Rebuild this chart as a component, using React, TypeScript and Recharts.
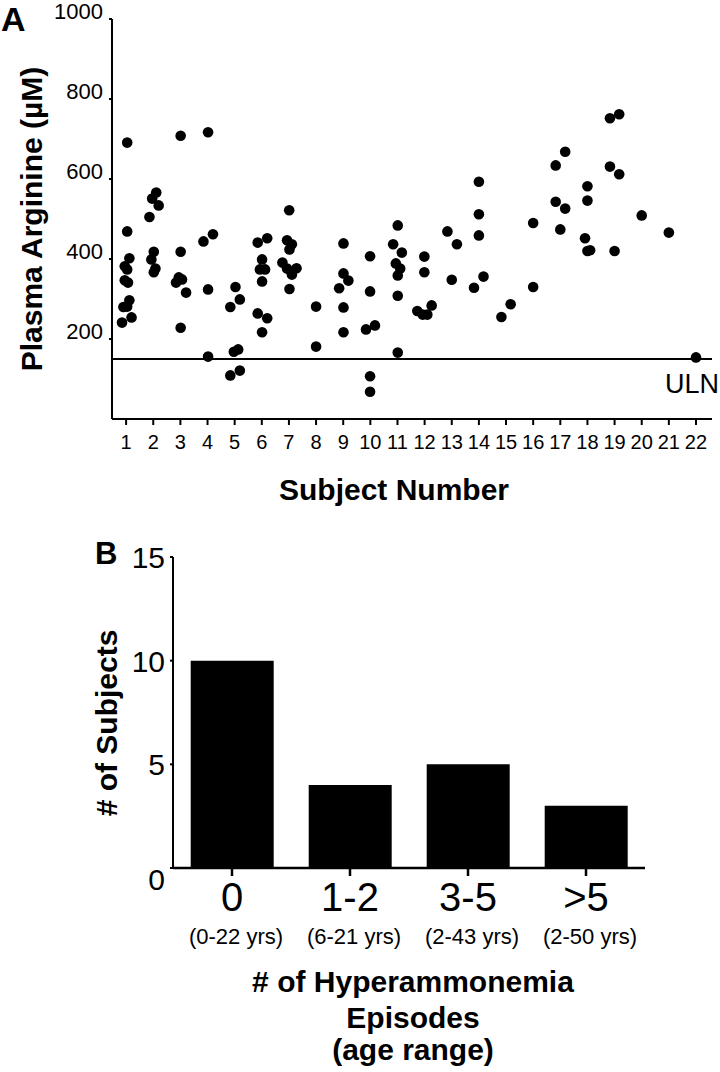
import React from 'react';
import { ScatterChart, Scatter, BarChart, Bar, XAxis, YAxis, ReferenceLine } from 'recharts';

const FONT = "'Liberation Sans', Arial, sans-serif";

// panel A: plasma arginine per subject (µM)
const subjectTicks = [1, 2, 3, 4, 5, 6, 7, 8, 9, 10, 11, 12, 13, 14, 15, 16, 17, 18, 19, 20, 21, 22];
const arginineTicks = [200, 400, 600, 800, 1000];
const ulnValue = 150;

const arginineBySubject: number[][] = [
  [691, 469, 402, 382, 374, 347, 341, 297, 281, 280, 254, 241],
  [566, 551, 534, 505, 418, 399, 376, 367],
  [708, 418, 354, 349, 341, 316, 228],
  [717, 462, 444, 324, 156],
  [330, 299, 280, 174, 168, 121, 109],
  [452, 441, 399, 374, 374, 344, 264, 252, 217],
  [522, 447, 437, 424, 391, 376, 377, 361, 325],
  [281, 181],
  [439, 364, 346, 327, 279, 217],
  [407, 319, 234, 224, 107, 68],
  [484, 437, 416, 389, 376, 359, 308, 166],
  [406, 367, 284, 270, 261, 261],
  [469, 437, 348],
  [593, 512, 459, 356, 328],
  [287, 255],
  [490, 330],
  [668, 634, 543, 526, 474],
  [582, 546, 452, 420, 422],
  [762, 752, 631, 612, 420],
  [509],
  [466],
  [154],
];

// horizontal spread of the dots around each subject number
const jitterBySubject: number[][] = [
  [0.04, 0.04, 0.12, -0.05, 0.04, -0.05, 0.07, 0.12, 0.04, -0.1, 0.2, -0.15],
  [0.11, -0.04, 0.2, -0.14, 0.02, -0.07, 0.08, 0.02],
  [0.01, 0.01, -0.06, 0.06, -0.16, 0.21, 0.01],
  [0.02, 0.2, -0.15, 0.02, 0.02],
  [0.03, 0.19, -0.16, 0.13, -0.03, 0.19, -0.16],
  [0.2, -0.15, 0.01, -0.07, 0.12, 0.01, -0.15, 0.2, 0.01],
  [0.01, -0.07, 0.11, 0.02, -0.24, -0.07, 0.28, 0.11, 0.02],
  [0, 0],
  [0.01, 0.01, 0.19, -0.15, 0.01, 0.01],
  [-0.01, -0.01, 0.17, -0.16, -0.01, -0.01],
  [0.01, -0.16, 0.16, -0.06, 0.1, 0.01, 0.01, 0.01],
  [-0.01, -0.01, 0.26, -0.27, -0.07, 0.1],
  [-0.16, 0.19, 0],
  [0, 0, 0, 0.17, -0.18],
  [0.17, -0.17],
  [0, 0],
  [0.18, -0.17, -0.17, 0.18, 0],
  [0, 0, -0.09, 0, 0.1],
  [0.17, -0.17, -0.17, 0.17, 0],
  [0],
  [0],
  [0],
];

// panel B: subjects by number of hyperammonemia episodes
const episodeGroups = ['0', '1-2', '3-5', '>5'];
const ageRanges = ['(0-22 yrs)', '(6-21 yrs)', '(2-43 yrs)', '(2-50 yrs)'];
const subjectCounts = [10, 4, 5, 3];
const countTicks = [0, 5, 10, 15];

const scatterData = arginineBySubject.flatMap((vals, i) =>
  vals.map((v, j) => ({ x: subjectTicks[i] + jitterBySubject[i][j], y: v }))
);

const barData = episodeGroups.map((g, i) => ({ group: g, age: ageRanges[i], count: subjectCounts[i] }));

const Dot = (props: any) => <circle cx={props.cx} cy={props.cy} r={5.3} fill="#000" />;

const ATickY = (props: any) => (
  <text x={props.x} y={props.y} textAnchor="end" fontSize={22} fontFamily={FONT} fill="#000">
    {props.payload.value}
  </text>
);

const ATickX = (props: any) => (
  <text x={props.x} y={props.y} dy={22} textAnchor="middle" fontSize={20} fontFamily={FONT} fill="#000">
    {props.payload.value}
  </text>
);

const BTickY = (props: any) => (
  <text
    x={props.x}
    y={props.y}
    dy={props.payload.value === 0 ? 22 : 11}
    textAnchor="end"
    fontSize={30}
    fontFamily={FONT}
    fill="#000"
  >
    {props.payload.value}
  </text>
);

const BTickX = (props: any) => {
  const i = props.index;
  return (
    <g>
      <text x={props.x} y={props.y} dy={35} textAnchor="middle" fontSize={40} fontFamily={FONT} fill="#000">
        {episodeGroups[i]}
      </text>
      <text x={props.x + 4} y={props.y} dy={68} textAnchor="middle" fontSize={22} fontFamily={FONT} fill="#000">
        {ageRanges[i]}
      </text>
    </g>
  );
};

const UlnLabel = (props: any) => {
  const vb = props.viewBox || {};
  return (
    <text x={vb.x + vb.width + 7} y={vb.y + 34} textAnchor="end" fontSize={27} fontFamily={FONT} fill="#000">
      ULN
    </text>
  );
};

export default function App() {
  const bold = { fontFamily: FONT, fontWeight: 700, fill: '#000' } as const;
  return (
    <div style={{ position: 'absolute', left: 0, top: 0, width: 720, height: 1072, background: '#fff', overflow: 'hidden' }}>
      <div style={{ position: 'absolute', left: 0, top: 0 }}>
        <ScatterChart width={720} height={470} margin={{ top: 19, right: 8, bottom: 0, left: 8 }}>
          <XAxis
            type="number"
            dataKey="x"
            domain={[0.48, 22.59]}
            ticks={subjectTicks}
            allowDataOverflow
            height={51}
            tickSize={6}
            tickMargin={2}
            stroke="#000"
            strokeWidth={2}
            tick={<ATickX />}
            interval={0}
          />
          <YAxis
            type="number"
            dataKey="y"
            domain={[0, 1000]}
            ticks={arginineTicks}
            width={104}
            tickSize={3}
            tickMargin={6}
            stroke="#000"
            strokeWidth={2}
            tick={<ATickY />}
            interval={0}
          />
          <ReferenceLine y={ulnValue} stroke="#000" strokeWidth={2} label={<UlnLabel />} />
          <Scatter data={scatterData} shape={<Dot />} isAnimationActive={false} />
        </ScatterChart>
      </div>
      <div style={{ position: 'absolute', left: 0, top: 520 }}>
        <BarChart width={720} height={552} data={barData} margin={{ top: 37, right: 75, bottom: 0, left: 7 }} barCategoryGap="15%">
          <XAxis
            dataKey="group"
            height={204}
            tickSize={8}
            tickMargin={0}
            stroke="#000"
            strokeWidth={2.5}
            tick={<BTickX />}
            interval={0}
          />
          <YAxis
            domain={[0, 15]}
            ticks={countTicks}
            width={166}
            tickSize={3}
            tickMargin={5}
            stroke="#000"
            strokeWidth={2}
            tick={<BTickY />}
            interval={0}
          />
          <Bar dataKey="count" fill="#000" isAnimationActive={false} />
        </BarChart>
      </div>
      <svg width={720} height={1072} style={{ position: 'absolute', left: 0, top: 0, pointerEvents: 'none' }}>
        <text x={1} y={31} fontSize={34} {...bold}>A</text>
        <text x={42} y={219} transform="rotate(-90 42 219)" textAnchor="middle" fontSize={30} {...bold}>
          Plasma Arginine (µM)
        </text>
        <text x={394} y={500} textAnchor="middle" fontSize={30} {...bold}>Subject Number</text>
        <text x={95} y={564} fontSize={31} {...bold}>B</text>
        <text x={117} y={723} transform="rotate(-90 117 723)" textAnchor="middle" fontSize={30} {...bold}>
          # of Subjects
        </text>
        <text x={413} y={992} textAnchor="middle" fontSize={30} {...bold}># of Hyperammonemia</text>
        <text x={413} y={1028} textAnchor="middle" fontSize={30} {...bold}>Episodes</text>
        <text x={413} y={1060} textAnchor="middle" fontSize={30} {...bold}>(age range)</text>
      </svg>
    </div>
  );
}
